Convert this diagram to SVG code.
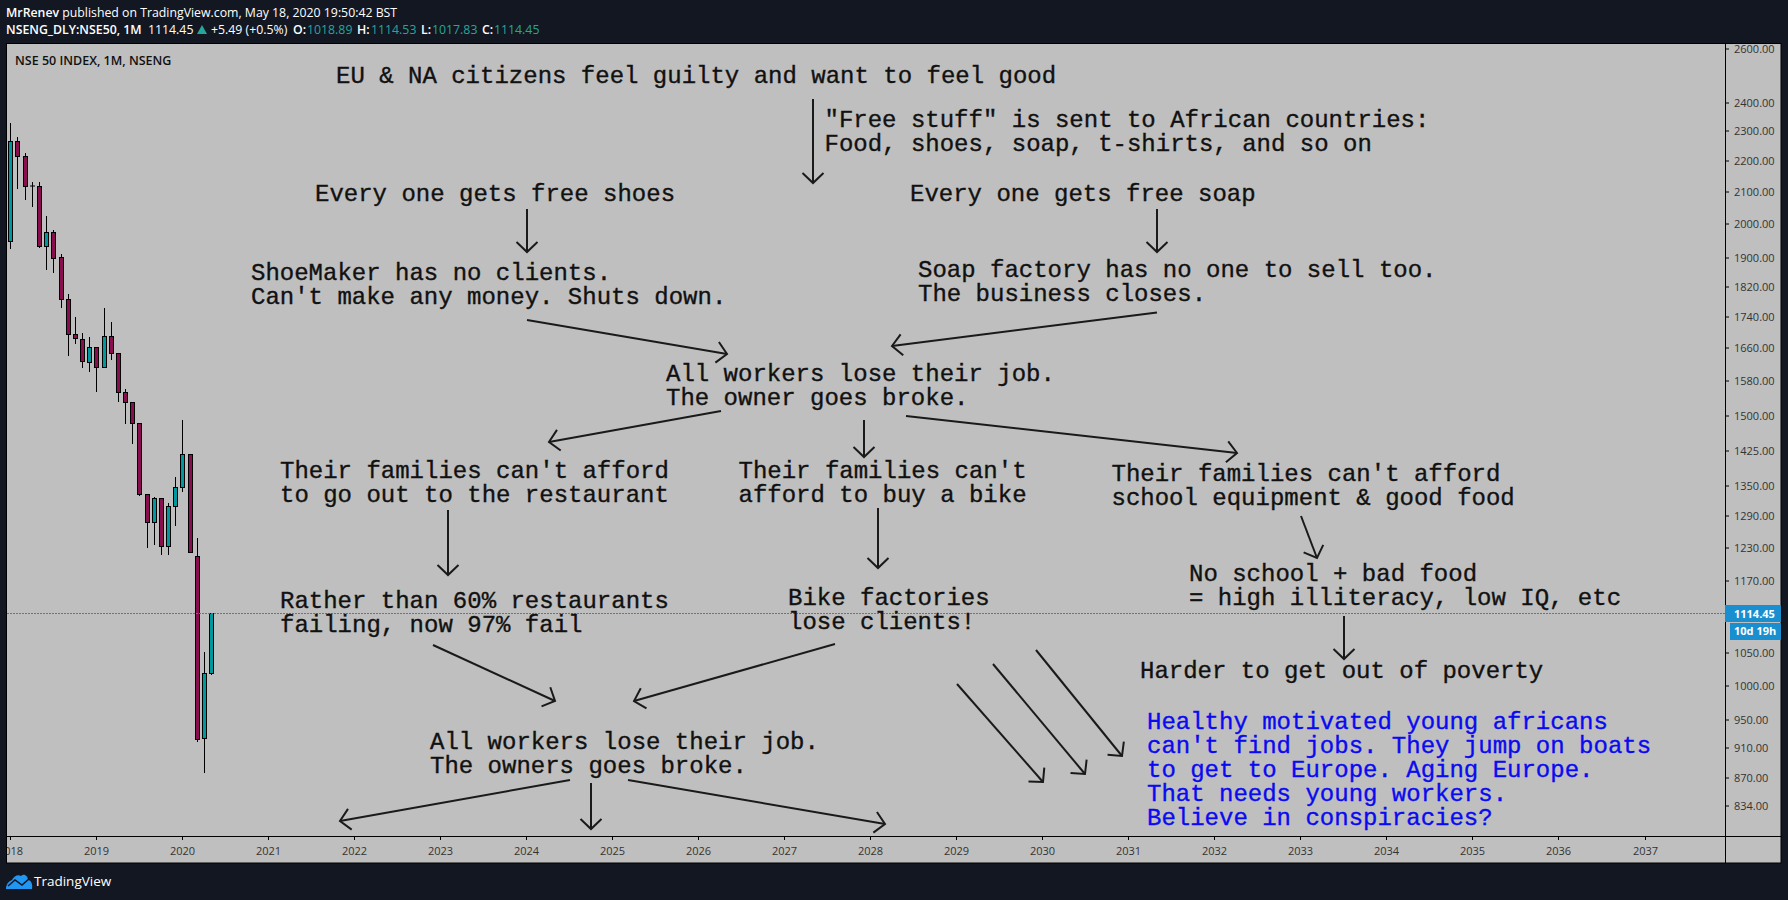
<svg xmlns="http://www.w3.org/2000/svg" width="1788" height="900" viewBox="0 0 1788 900">
<style>
.h{font:12.3px "Open Sans",sans-serif;fill:#fff}
.b{font-weight:600}
.g{fill:#26a69a}
.m{font:24px "Liberation Mono","Courier New",monospace;fill:#111;stroke:#111;stroke-width:.35;white-space:pre}
.bl{fill:#0a0af0;stroke:#0a0af0}
.p{font:11px "Open Sans",sans-serif;fill:#333}
.w{font-weight:700;fill:#fff}
.up{fill:#00979f;stroke:#000}
.dn{fill:#880e4f;stroke:#000}
.wk{stroke:#000;stroke-width:1;fill:none}
.a{stroke:#1a1a1a;stroke-width:2;fill:none;marker-end:url(#ah)}
.t{stroke:#000;stroke-width:1}
</style>
<defs>
<marker id="ah" markerUnits="userSpaceOnUse" markerWidth="30" markerHeight="30" refX="15" refY="15" orient="auto" overflow="visible"><path d="M5,4.5 L15,15 L5,25.5" fill="none" stroke="#1a1a1a" stroke-width="2"/></marker>
<clipPath id="pc"><rect x="7" y="44" width="1718" height="819"/></clipPath>
</defs>
<rect width="1788" height="900" fill="#131722"/>
<rect x="6.5" y="43.5" width="1774.5" height="819.5" fill="#bfbfbf" stroke="#000"/>
<path class="t" d="M1725.5 44V863M7 836.5H1781"/>
<g id="header">
<text class="h" x="6" y="17"><tspan class="b">MrRenev</tspan> published on TradingView.com, May 18, 2020 19:50:42 BST</text>
<text class="h" x="6" y="34"><tspan class="b">NSENG_DLY:NSE50, 1M</tspan></text>
<text class="h" x="148" y="34">1114.45</text>
<path d="M197 34L202 25L207 34Z" fill="#26a69a"/>
<text class="h" x="211" y="34">+5.49 (+0.5%)</text>
<text class="h b" x="293" y="34">O:</text><text class="h g" x="307" y="34">1018.89</text>
<text class="h b" x="357" y="34">H:</text><text class="h g" x="371" y="34">1114.53</text>
<text class="h b" x="421" y="34">L:</text><text class="h g" x="432" y="34">1017.83</text>
<text class="h b" x="482" y="34">C:</text><text class="h g" x="494" y="34">1114.45</text>
</g>
<text id="title" x="15" y="65" style="font:600 12.5px 'Open Sans',sans-serif;fill:#111">NSE 50 INDEX, 1M, NSENG</text>
<g id="candles">
<path class="wk" d="M10.5 123V249M17.5 137V189M25.5 153V200M32.5 182V207M39.5 182V248M46.5 216V270M53.5 230V273M61.5 254V308M68.5 294V356M75.5 317V344M82.5 333V368M89.5 337V372M96.5 347V392M104.5 308V368M111.5 322V360M118.5 353V402M125.5 389V424M132.5 402V444M139.5 424V496M147.5 495V548M154.5 497V545M161.5 498V555M168.5 503V555M175.5 477V526M182.5 420V492M197.5 538V742M204.5 652V773M211.5 613V675"/>
<rect class="up" x="8.5" y="141.5" width="4" height="100"/>
<rect class="dn" x="15.5" y="141.5" width="4" height="15"/>
<rect class="dn" x="23.5" y="156.5" width="4" height="30"/>
<path class="wk" d="M30 186H35"/>
<rect class="dn" x="37.5" y="186.5" width="4" height="60"/>
<rect class="up" x="44.5" y="232.5" width="4" height="14"/>
<rect class="dn" x="51.5" y="232.5" width="4" height="26"/>
<rect class="dn" x="59.5" y="257.5" width="4" height="42"/>
<rect class="dn" x="66.5" y="299.5" width="4" height="35"/>
<rect class="dn" x="73.5" y="334.5" width="4" height="4"/>
<rect class="dn" x="80.5" y="339.5" width="4" height="22"/>
<rect class="up" x="87.5" y="347.5" width="4" height="15"/>
<rect class="dn" x="94.5" y="347.5" width="4" height="20"/>
<rect class="up" x="102.5" y="336.5" width="4" height="31"/>
<rect class="dn" x="109.5" y="336.5" width="4" height="17"/>
<rect class="dn" x="116.5" y="353.5" width="4" height="39"/>
<rect class="dn" x="123.5" y="392.5" width="4" height="10"/>
<rect class="dn" x="130.5" y="402.5" width="4" height="21"/>
<rect class="dn" x="137.5" y="423.5" width="4" height="71"/>
<rect class="dn" x="145.5" y="494.5" width="4" height="28"/>
<rect class="up" x="152.5" y="498.5" width="4" height="24"/>
<rect class="dn" x="159.5" y="498.5" width="4" height="48"/>
<rect class="up" x="166.5" y="506.5" width="4" height="40"/>
<rect class="up" x="173.5" y="487.5" width="4" height="19"/>
<rect class="up" x="180.5" y="454.5" width="4" height="33"/>
<rect class="dn" x="188.5" y="454.5" width="4" height="98"/>
<rect class="dn" x="195.5" y="556.5" width="4" height="183"/>
<rect class="up" x="202.5" y="673.5" width="4" height="65"/>
<rect class="up" x="209.5" y="613.5" width="4" height="60"/>
</g>
<path id="priceline" d="M7 613.5H1729" stroke="#1a8fd0" stroke-width="1" stroke-dasharray="2 1"/>
<g id="price-axis">
<path class="t" d="M1726 49h3M1726 103h3M1726 131h3M1726 161h3M1726 192h3M1726 224h3M1726 258h3M1726 287h3M1726 317h3M1726 348h3M1726 381h3M1726 416h3M1726 451h3M1726 486h3M1726 516h3M1726 548h3M1726 581h3M1726 653h3M1726 686h3M1726 720h3M1726 748h3M1726 778h3M1726 806h3"/>
<g class="p">
<text class="p" x="1734" y="53">2600.00</text><text class="p" x="1734" y="107">2400.00</text><text class="p" x="1734" y="135">2300.00</text><text class="p" x="1734" y="165">2200.00</text><text class="p" x="1734" y="196">2100.00</text><text class="p" x="1734" y="228">2000.00</text><text class="p" x="1734" y="262">1900.00</text><text class="p" x="1734" y="291">1820.00</text><text class="p" x="1734" y="321">1740.00</text><text class="p" x="1734" y="352">1660.00</text><text class="p" x="1734" y="385">1580.00</text><text class="p" x="1734" y="420">1500.00</text><text class="p" x="1734" y="455">1425.00</text><text class="p" x="1734" y="490">1350.00</text><text class="p" x="1734" y="520">1290.00</text><text class="p" x="1734" y="552">1230.00</text><text class="p" x="1734" y="585">1170.00</text><text class="p" x="1734" y="657">1050.00</text><text class="p" x="1734" y="690">1000.00</text><text class="p" x="1734" y="724">950.00</text><text class="p" x="1734" y="752">910.00</text><text class="p" x="1734" y="782">870.00</text><text class="p" x="1734" y="810">834.00</text>
</g>
<rect x="1725" y="605" width="56" height="17" fill="#1a8fd0"/>
<rect x="1730" y="623" width="51" height="17" fill="#1a8fd0"/>
<text class="p w" x="1734" y="618">1114.45</text>
<text class="p w" x="1734" y="635">10d 19h</text>
</g>
<g id="time-axis">
<path class="t" d="M10.5 837v3M96.5 837v3M182.5 837v3M268.5 837v3M354.5 837v3M440.5 837v3M526.5 837v3M612.5 837v3M698.5 837v3M784.5 837v3M870.5 837v3M956.5 837v3M1042.5 837v3M1128.5 837v3M1214.5 837v3M1300.5 837v3M1386.5 837v3M1472.5 837v3M1558.5 837v3M1645.5 837v3"/>
<g clip-path="url(#pc)" text-anchor="middle">
<text class="p" x="10.5" y="855">2018</text><text class="p" x="96.5" y="855">2019</text><text class="p" x="182.5" y="855">2020</text><text class="p" x="268.5" y="855">2021</text><text class="p" x="354.5" y="855">2022</text><text class="p" x="440.5" y="855">2023</text><text class="p" x="526.5" y="855">2024</text><text class="p" x="612.5" y="855">2025</text><text class="p" x="698.5" y="855">2026</text><text class="p" x="784.5" y="855">2027</text><text class="p" x="870.5" y="855">2028</text><text class="p" x="956.5" y="855">2029</text><text class="p" x="1042.5" y="855">2030</text><text class="p" x="1128.5" y="855">2031</text><text class="p" x="1214.5" y="855">2032</text><text class="p" x="1300.5" y="855">2033</text><text class="p" x="1386.5" y="855">2034</text><text class="p" x="1472.5" y="855">2035</text><text class="p" x="1558.5" y="855">2036</text><text class="p" x="1645.5" y="855">2037</text>
</g>
</g>
<g id="connectors">
<path class="a" d="M813 99V183"/>
<path class="a" d="M527 209V252"/>
<path class="a" d="M1157 209V252"/>
<path class="a" d="M527 320L727 354"/>
<path class="a" d="M1157 312.5L892 346"/>
<path class="a" d="M721 411L549 442"/>
<path class="a" d="M864 420V457"/>
<path class="a" d="M906 416L1237 453"/>
<path class="a" d="M448 510V575"/>
<path class="a" d="M878 508V568"/>
<path class="a" d="M1301 516L1317 558"/>
<path class="a" d="M1344 616V659"/>
<path class="a" d="M433 645L555 701"/>
<path class="a" d="M835 644L634 701"/>
<path class="a" d="M957 684L1043 782"/>
<path class="a" d="M993 664L1085 774"/>
<path class="a" d="M1036 650L1122 756"/>
<path class="a" d="M570 780L340 821"/>
<path class="a" d="M591 783V829"/>
<path class="a" d="M628 780L885 824"/>
</g>
<g id="n-eu"><text class="m" x="336" y="83">EU &amp; NA citizens feel guilty and want to feel good</text></g>
<g id="n-free"><text class="m" x="824.5" y="126.5">"Free stuff" is sent to African countries:</text><text class="m" x="824.5" y="150.5">Food, shoes, soap, t-shirts, and so on</text></g>
<g id="n-shoes"><text class="m" x="315" y="201">Every one gets free shoes</text></g>
<g id="n-soap"><text class="m" x="910" y="200.5">Every one gets free soap</text></g>
<g id="n-shoemaker"><text class="m" x="251" y="280">ShoeMaker has no clients.</text><text class="m" x="251" y="304">Can't make any money. Shuts down.</text></g>
<g id="n-soapfactory"><text class="m" x="918" y="276.5">Soap factory has no one to sell too.</text><text class="m" x="918" y="300.5">The business closes.</text></g>
<g id="n-workers1"><text class="m" x="666" y="381">All workers lose their job.</text><text class="m" x="666" y="405">The owner goes broke.</text></g>
<g id="n-restaurant"><text class="m" x="280" y="478">Their families can't afford</text><text class="m" x="280" y="502">to go out to the restaurant</text></g>
<g id="n-bike"><text class="m" x="738.5" y="478">Their families can't</text><text class="m" x="738.5" y="502">afford to buy a bike</text></g>
<g id="n-school"><text class="m" x="1111.5" y="481">Their families can't afford</text><text class="m" x="1111.5" y="505">school equipment &amp; good food</text></g>
<g id="n-illiteracy"><text class="m" x="1189" y="580.5">No school + bad food</text><text class="m" x="1189" y="604.5">= high illiteracy, low IQ, etc</text></g>
<g id="n-failing"><text class="m" x="280" y="607.5">Rather than 60% restaurants</text><text class="m" x="280" y="631.5">failing, now 97% fail</text></g>
<g id="n-bikefactories"><text class="m" x="788" y="604.5">Bike factories</text><text class="m" x="788" y="628.5">lose clients!</text></g>
<g id="n-poverty"><text class="m" x="1140" y="677.5">Harder to get out of poverty</text></g>
<g id="n-workers2"><text class="m" x="430" y="749">All workers lose their job.</text><text class="m" x="430" y="773">The owners goes broke.</text></g>
<g id="n-blue"><text class="m bl" x="1147" y="729">Healthy motivated young africans</text><text class="m bl" x="1147" y="753">can't find jobs. They jump on boats</text><text class="m bl" x="1147" y="777">to get to Europe. Aging Europe.</text><text class="m bl" x="1147" y="801">That needs young workers.</text><text class="m bl" x="1147" y="825">Believe in conspiracies?</text></g>
<g id="logo">
<path d="M6 889C6 884 9 881 12 880C14 876 18 874 21 876C24 873 28 876 28 880C31 880 33 884 32 889Z" fill="#2196f3"/>
<path d="M8 886L15 880L22 885L30 878" fill="none" stroke="#131722" stroke-width="1.5"/>
<text x="34" y="886" style="font:13.5px 'Open Sans',sans-serif;fill:#fff">TradingView</text>
</g>
</svg>
